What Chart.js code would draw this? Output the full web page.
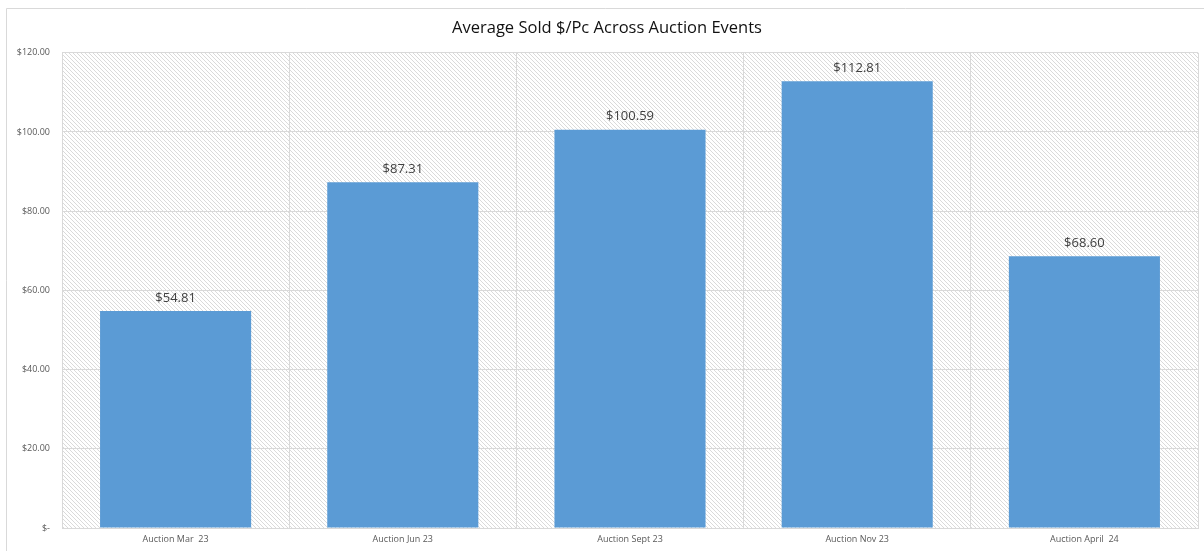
<!DOCTYPE html>
<html>
<head>
<meta charset="utf-8">
<script src="https://cdn.jsdelivr.net/npm/chart.js@4.4.0/dist/chart.umd.min.js"></script>
<style>
html,body{margin:0;padding:0;background:#fff;}
#wrap{width:1204px;height:551px;position:relative;}
</style>
</head>
<body>
<div id="wrap"><canvas id="c" width="1204" height="551"></canvas></div>
<script>
const categories = ["Auction Mar  23", "Auction Jun 23", "Auction Sept 23", "Auction Nov 23", "Auction April  24"];
const avgSold = [54.81, 87.31, 100.59, 112.81, 68.60];
const yTicks = [0, 20, 40, 60, 80, 100, 120];
const chartTitle = "Average Sold $/Pc Across Auction Events";

function money(v){ return v === 0 ? "$-" : "$" + v.toFixed(2); }

function makePattern(ctx){
  const s = 4;
  const pc = document.createElement('canvas');
  pc.width = s; pc.height = s;
  const p = pc.getContext('2d');
  p.fillStyle = '#ffffff'; p.fillRect(0,0,s,s);
  p.strokeStyle = '#dadada'; p.lineWidth = 1;
  p.beginPath();
  p.moveTo(-1,-1); p.lineTo(s+1,s+1);
  p.moveTo(-1,s-1); p.lineTo(1,s+1);
  p.moveTo(s-1,-1); p.lineTo(s+1,1);
  p.stroke();
  return ctx.createPattern(pc,'repeat');
}

const bgPlugin = {
  id:'bg',
  beforeDraw(chart){
    const {ctx, chartArea:a} = chart;
    ctx.save();
    ctx.fillStyle = '#fff'; ctx.fillRect(0,0,chart.width,chart.height);
    ctx.strokeStyle = '#d9d9d9'; ctx.lineWidth = 1;
    ctx.beginPath();
    ctx.moveTo(6.5, 560); ctx.lineTo(6.5, 8.5); ctx.lineTo(1210, 8.5);
    ctx.stroke();
    ctx.fillStyle = makePattern(ctx);
    ctx.fillRect(a.left, a.top, a.right-a.left, a.bottom-a.top);
    ctx.restore();
  }
};

const labelPlugin = {
  id:'vals',
  afterDatasetsDraw(chart){
    const {ctx} = chart;
    const meta = chart.getDatasetMeta(0);
    ctx.save();
    ctx.font = '13px "Open Sans", sans-serif';
    ctx.fillStyle = '#404040';
    ctx.textAlign = 'center';
    ctx.textBaseline = 'middle';
    meta.data.forEach((bar,i)=>{
      ctx.fillText(money(avgSold[i]), bar.x, bar.y - 13);
    });
    ctx.restore();
  }
};

new Chart(document.getElementById('c'), {
  type:'bar',
  data:{
    labels:categories,
    datasets:[{
      data:avgSold,
      backgroundColor:'#5b9bd5',
      borderWidth:0,
      categoryPercentage:1,
      barPercentage:0.665
    }]
  },
  options:{
    responsive:false,
    animation:false,
    devicePixelRatio:1,
    layout:{padding:{left:16,right:6,top:10,bottom:0}},
    plugins:{
      legend:{display:false},
      tooltip:{enabled:false},
      title:{
        display:true,
        text:chartTitle,
        color:'#111',
        font:{family:'"Open Sans", sans-serif', size:16.5, weight:'normal'},
        padding:{top:8,bottom:15}
      }
    },
    scales:{
      x:{
        grid:{color:'#d9d9d9', offset:true, drawTicks:false},
        border:{color:'#d9d9d9'},
        ticks:{color:'#595959', font:{family:'"Open Sans", sans-serif', size:9}, padding:6, maxRotation:0},
        afterFit(s){ s.height = 23; }
      },
      y:{
        min:0, max:120,
        afterBuildTicks(s){ s.ticks = yTicks.map(v=>({value:v})); },
        grid:{color:'#d9d9d9', drawTicks:false},
        border:{color:'#d9d9d9'},
        ticks:{color:'#595959', font:{family:'"Open Sans", sans-serif', size:9}, padding:12, callback:(v)=>money(v)},
        afterFit(s){ s.width = 46; }
      }
    }
  },
  plugins:[bgPlugin, labelPlugin]
});
</script>
</body>
</html>
